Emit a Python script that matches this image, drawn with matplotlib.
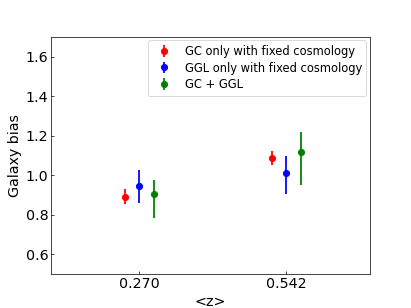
import numpy as np
import matplotlib
matplotlib.use('Agg')
import matplotlib.pyplot as plt

z_labels = ['0.270', '0.542']

gc_bias = [0.890, 1.089]
gc_lo = [0.036, 0.039]
gc_hi = [0.039, 0.034]

ggl_bias = [0.946, 1.013]
ggl_lo = [0.088, 0.109]
ggl_hi = [0.081, 0.084]

both_bias = [0.905, 1.118]
both_lo = [0.120, 0.167]
both_hi = [0.071, 0.101]

labels = ['GC only with fixed cosmology', 'GGL only with fixed cosmology', 'GC + GGL']

fig, ax = plt.subplots(figsize=(411 / 64, 308 / 64), dpi=64)

x = np.arange(len(z_labels))
off = 0.1

ax.errorbar(x - off, gc_bias, yerr=[gc_lo, gc_hi], fmt='o', color='red',
            markersize=7, elinewidth=2, label=labels[0])
ax.errorbar(x, ggl_bias, yerr=[ggl_lo, ggl_hi], fmt='o', color='blue',
            markersize=7, elinewidth=2, label=labels[1])
ax.errorbar(x + off, both_bias, yerr=[both_lo, both_hi], fmt='o', color='green',
            markersize=7, elinewidth=2, label=labels[2])

ax.set_xlim(-0.6, 1.57)
ax.set_ylim(0.5, 1.7)
ax.set_xticks(x)
ax.set_xticklabels(z_labels)
ax.set_yticks(np.arange(0.6, 1.61, 0.2))
ax.tick_params(direction='in', labelsize=16)

ax.set_xlabel('<z>', fontsize=16)
ax.set_ylabel('Galaxy bias', fontsize=16)
ax.legend(loc='upper right', fontsize=13, labelspacing=0.3, borderaxespad=0.3)

fig.savefig('out.png', dpi=64)
